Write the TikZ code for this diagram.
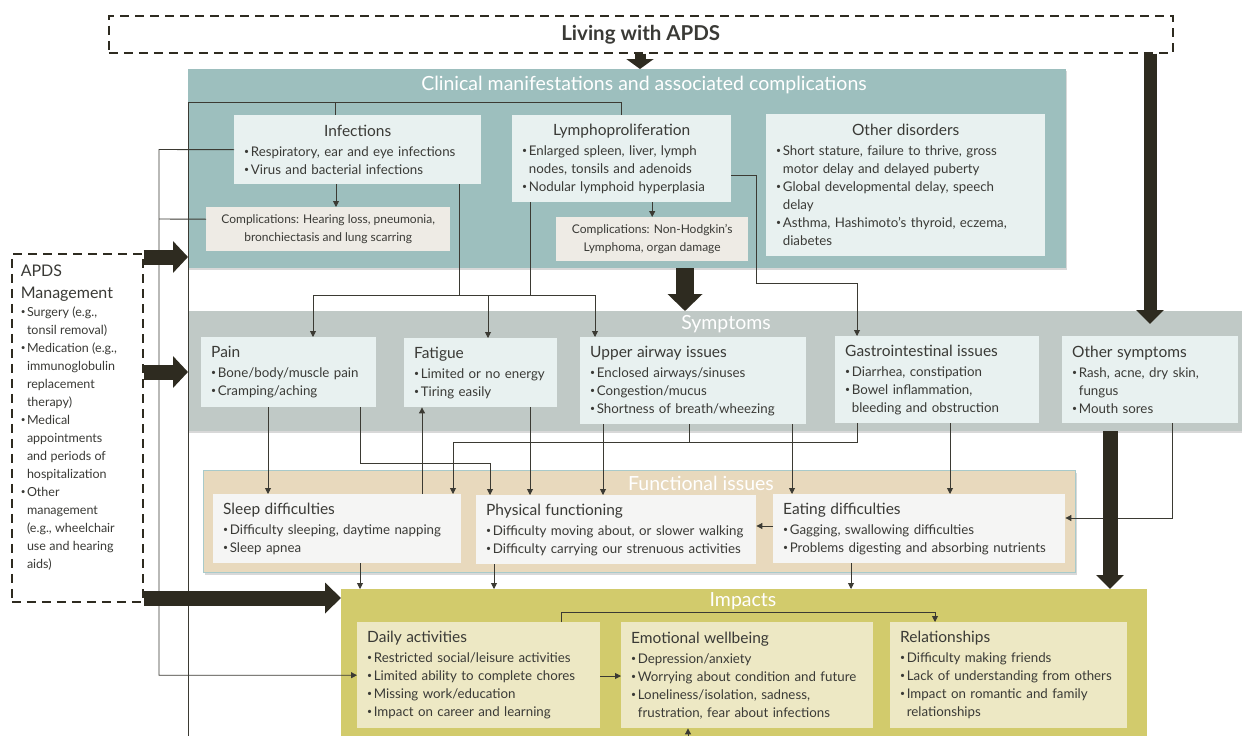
\documentclass[tikz,border=0pt]{standalone}
\usepackage{fontspec}
\setmainfont{Lato}
\usetikzlibrary{arrows.meta,calc,positioning,shadows}

\definecolor{ink}{HTML}{3A3A36}
\definecolor{lnkc}{HTML}{3B3A33}
\definecolor{darkfill}{HTML}{2E2B20}
\definecolor{tealbg}{HTML}{9DBFBE}
\definecolor{tealin}{HTML}{E8F1F0}
\definecolor{compin}{HTML}{EEEBE5}
\definecolor{symbg}{HTML}{C0C9C6}
\definecolor{funbg}{HTML}{E8D9BD}
\definecolor{funedge}{HTML}{A8CACA}
\definecolor{funin}{HTML}{F5F5F4}
\definecolor{impbg}{HTML}{D2CB6C}
\definecolor{impin}{HTML}{EDE8C4}

\newcommand\bul{\makebox[0.5em][l]{\raisebox{0.28ex}{\scalebox{0.65}{\textbullet}}}}
\newcommand\cnt{\hspace*{0.5em}}
\newcommand\ttl[1]{{\fontsize{15.5}{18}\selectfont #1}\\[2pt]}
\newcommand\cttl[1]{\makebox[\linewidth]{\fontsize{15.5}{18}\selectfont #1}\\[2pt]}

\tikzset{
  lnk/.style={draw=lnkc, line width=0.9pt, -{Triangle[length=6pt,width=6pt]}},
  bus/.style={draw=lnkc, line width=0.9pt},
  bigarr/.style args={#1/#2/#3}{draw=darkfill, line width=#1, -{Triangle[length=#3,width=#2]}},
  container/.style={anchor=north west, inner sep=0pt},
  shade/.style={drop shadow={shadow xshift=1pt, shadow yshift=-2pt, opacity=0.3}},
  inbox/.style={anchor=north west, inner xsep=10pt, inner ysep=3pt, align=left,
    text=ink, font=\fontsize{13.3}{18}\selectfont},
  clin/.style={inbox, fill=tealin},
  comp/.style={anchor=north west, fill=compin, align=center, text=ink,
    font=\fontsize{12}{18}\selectfont, inner sep=0pt},
  sym/.style={inbox, fill=tealin},
  fun/.style={inbox, fill=funin},
  imp/.style={inbox, fill=impin},
  boxtitle/.style={text=white, font=\fontsize{19.5}{22}\selectfont},
  dashbox/.style={draw=darkfill, line width=1.5pt, dash pattern=on 9pt off 6pt},
}

\begin{document}
\begin{tikzpicture}[x=1pt,y=-1pt]
  \fill[white] (0,0) rectangle (1242,736);
  \useasboundingbox (0,0) rectangle (1242,736);

  % top and management
  \node[dashbox, anchor=north west, minimum width=1064, minimum height=37, inner sep=0pt,
    text=ink, font=\bfseries\fontsize{20.5}{22}\selectfont] (living) at (108,15) {Living with APDS};
  \node[dashbox, anchor=north west, minimum height=348, inner xsep=9pt, inner ysep=3pt,
    text width=113pt, align=left, text=ink] (mgmt) at (11,253)
    {{\fontsize{16}{22}\selectfont APDS\\Management\par}
     \fontsize{12.5}{18}\selectfont
     \bul Surgery (e.g.,\\\cnt tonsil removal)\\
     \bul Medication (e.g.,\\\cnt immunoglobulin\\\cnt replacement\\\cnt therapy)\\
     \bul Medical\\\cnt appointments\\\cnt and periods of\\\cnt hospitalization\\
     \bul Other\\\cnt management\\\cnt (e.g., wheelchair\\\cnt use and hearing\\\cnt aids)\\[10pt]\mbox{}};

  % clinical manifestations
  \node[container, fill=tealbg, shade, minimum width=878, minimum height=199] (clinic) at (188,69) {};
  \node[boxtitle] (clinicT) at (644,85) {Clinical manifestations and associated complications};
  \node[clin, text width=227pt, minimum height=69] (infect) at (234,115)
    {\cttl{Infections}\bul Respiratory, ear and eye infections\\\bul Virus and bacterial infections};
  \node[comp, minimum width=244, minimum height=44] (compinf) at (206,207)
    {Complications: Hearing loss, pneumonia,\\bronchiectasis and lung scarring};
  \node[clin, text width=199pt, minimum height=87] (lympho) at (512,115)
    {\cttl{Lymphoproliferation}\bul Enlarged spleen, liver, lymph\\\cnt nodes, tonsils and adenoids\\\bul Nodular lymphoid hyperplasia};
  \node[comp, minimum width=192, minimum height=44] (complym) at (556,217)
    {Complications: Non-Hodgkin’s\\Lymphoma, organ damage};
  \node[clin, text width=259pt, minimum height=142] (otherdis) at (766,114)
    {\cttl{Other disorders}\bul Short stature, failure to thrive, gross\\\cnt motor delay and delayed puberty\\
     \bul Global developmental delay, speech\\\cnt delay\\\bul Asthma, Hashimoto’s thyroid, eczema,\\\cnt diabetes};

  % symptoms
  \node[container, fill=symbg, shade, minimum width=1080, minimum height=120] (sympt) at (188,311) {};
  \node[boxtitle] (symptT) at (726,324) {Symptoms};
  \node[sym, text width=155pt, minimum height=70] (pain) at (201,337)
    {\ttl{Pain}\bul Bone/body/muscle pain\\\bul Cramping/aching};
  \node[sym, text width=133pt, minimum height=69] (fatigue) at (404,338)
    {\ttl{Fatigue}\bul Limited or no energy\\\bul Tiring easily};
  \node[sym, text width=206pt, minimum height=87] (airway) at (580,337)
    {\ttl{Upper airway issues}\bul Enclosed airways/sinuses\\\bul Congestion/mucus\\\bul Shortness of breath/wheezing};
  \node[sym, text width=184pt, minimum height=87] (gastro) at (835,336)
    {\ttl{Gastrointestinal issues}\bul Diarrhea, constipation\\\bul Bowel inflammation,\\\cnt bleeding and obstruction};
  \node[sym, text width=156pt, minimum height=87] (othersym) at (1062,336)
    {\ttl{Other symptoms}\bul Rash, acne, dry skin,\\\cnt fungus\\\bul Mouth sores};

  % functional issues
  \node[container, fill=funbg, draw=funedge, line width=1.2pt, shade, minimum width=872, minimum height=102] (funct) at (203,470) {};
  \node[boxtitle] (functT) at (701,483) {Functional issues};
  \node[fun, text width=228pt, minimum height=69] (sleep) at (213,494)
    {\ttl{Sleep difficulties}\bul Difficulty sleeping, daytime napping\\\bul Sleep apnea};
  \node[fun, text width=260pt, minimum height=69] (physical) at (476,495)
    {\ttl{Physical functioning}\bul Difficulty moving about, or slower walking\\\bul Difficulty carrying our strenuous activities};
  \node[fun, text width=272pt, minimum height=69] (eating) at (773,494)
    {\ttl{Eating difficulties}\bul Gagging, swallowing difficulties\\\bul Problems digesting and absorbing nutrients};

  % impacts
  \node[container, fill=impbg, minimum width=806, minimum height=160] (impact) at (341,589) {};
  \node[boxtitle] (impactT) at (743,601) {Impacts};
  \node[imp, text width=223pt, minimum height=106] (daily) at (357,622)
    {\ttl{Daily activities}\bul Restricted social/leisure activities\\\bul Limited ability to complete chores\\
     \bul Missing work/education\\\bul Impact on career and learning};
  \node[imp, text width=232pt, minimum height=106] (emotion) at (621,622)
    {\ttl{Emotional wellbeing}\bul Depression/anxiety\\\bul Worrying about condition and future\\
     \bul Loneliness/isolation, sadness,\\\cnt frustration, fear about infections};
  \node[imp, text width=217pt, minimum height=106] (relation) at (890,622)
    {\ttl{Relationships}\bul Difficulty making friends\\\bul Lack of understanding from others\\
     \bul Impact on romantic and family\\\cnt relationships};

  \coordinate (offB) at (188,736);
  \coordinate (offE) at (688,736);
  \coordinate (tipR) at (1150,324);

  % thin connectors
  \draw[bus] (offB) -- (188,102) -| (lympho.north);
  \draw[bus] (335,102) -- (infect.north -| 335,0);
  \draw[lnk] (infect.west) -- (159,149.5) |- (daily.west);
  \draw[bus] ([yshift=10pt]compinf.west) -- (159,219);
  \draw[lnk] (infect.south -| 336,0) -- (compinf.north -| 336,0);
  \draw[lnk] (complym.north |- lympho.south) -- (complym.north);
  \draw[bus] (infect.south -| 459,0) -- (459,295);
  \draw[bus] (lympho.south -| 530,0) -- (530,295);
  \draw[lnk] (459,295) -| (pain.north -| 313,0);
  \draw[lnk] (459,295) -| (fatigue.north -| 488,0);
  \draw[lnk] (459,295) -| (airway.north -| 595,0);
  \draw[lnk] (lympho.east |- 0,175) -| (756,283) -| (gastro.north -| 857,0);

  \draw[lnk] (pain.south -| 268,0) -- (sleep.north -| 268,0);
  \draw[lnk] (pain.south -| 360,0) -- (360,463) -| (physical.north -| 490,0);
  \draw[lnk] (sleep.north -| 422,0) -- (fatigue.south -| 422,0);
  \draw[lnk] (fatigue.south -| 530,0) -- (physical.north -| 530,0);
  \draw[lnk] (gastro.south -| 857,0) -- (857,442) -| (sleep.north -| 453,0);
  \draw[bus] (airway.south -| 689,0) -- (689,442);
  \draw[lnk] (airway.south -| 603,0) -- (physical.north -| 603,0);
  \draw[lnk] (airway.south -| 792,0) -- (eating.north -| 792,0);
  \draw[lnk] (gastro.south -| 950,0) -- (eating.north -| 950,0);
  \draw[lnk] (othersym.south -| 1172,0) |- (eating.east |- 0,518);
  \draw[lnk] (eating.west |- 0,526) -- (physical.east |- 0,526);

  \draw[lnk] (sleep.south -| 360,0) -- (impact.north -| 360,0);
  \draw[lnk] (physical.south -| 494,0) -- (impact.north -| 494,0);
  \draw[lnk] (eating.south -| 851,0) -- (impact.north -| 851,0);
  \draw[lnk] (daily.north -| 561,0) |- (935,612) -- (relation.north -| 935,0);
  \draw[lnk] (daily.east |- 0,676) -- (emotion.west |- 0,676);
  \draw[lnk] (offE) -- (emotion.south -| 688,0);

  % heavy arrows
  \draw[bigarr=11pt/27pt/10pt] (living.south -| 640,0) -- (clinic.north -| 640,0);
  \draw[bigarr=13pt/27pt/14pt] (living.south -| 1150,0) -- (tipR);
  \draw[bigarr=18pt/34pt/17pt] (clinic.south -| 685,0) -- (sympt.north -| 685,0);
  \draw[bigarr=15pt/27pt/14pt] (sympt.south -| 1110,0) -- (impact.north -| 1110,0);
  \draw[bigarr=15pt/31pt/15pt] (mgmt.east |- 0,257) -- (clinic.west |- 0,257);
  \draw[bigarr=15pt/31pt/15pt] (mgmt.east |- 0,372) -- (sympt.west |- 0,372);
  \draw[bigarr=15pt/30pt/16pt] (mgmt.east |- 0,598) -- (impact.west |- 0,598);
\end{tikzpicture}
\end{document}
